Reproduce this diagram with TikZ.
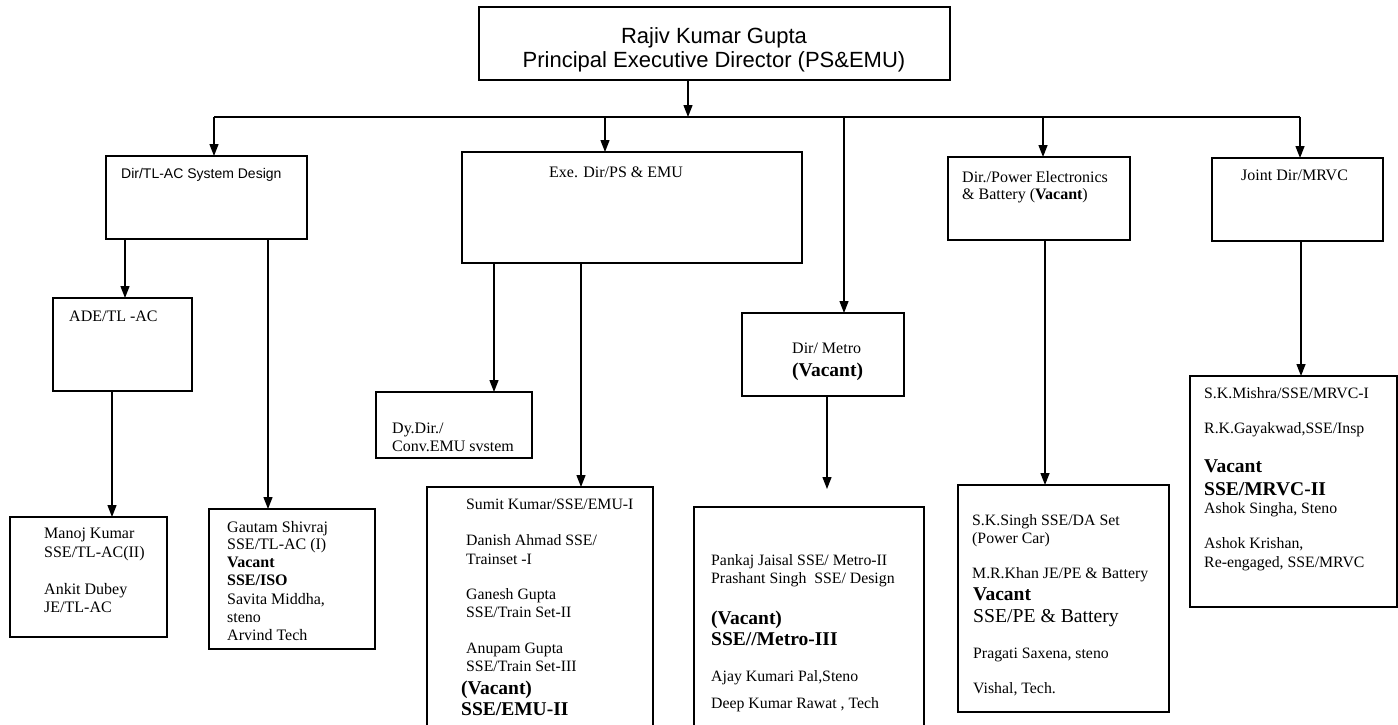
\documentclass[tikz,border=0pt]{standalone}
\usepackage{fontspec}
\setmainfont{Liberation Serif}
\newfontfamily\arialf{Liberation Sans}
\usetikzlibrary{arrows.meta}
\begin{document}
\begin{tikzpicture}[x=1pt,y=-1pt,
  box/.style={draw,line width=1.3pt,inner sep=0pt,outer sep=0pt,anchor=north west},
  ln/.style={line width=1.3pt},
  arr/.style={line width=1.3pt,-{Triangle[length=12pt,width=9pt]}},
  t/.style={inner sep=0pt,anchor=base west,font=\fontsize{15.8}{18}\selectfont},
  tt/.style={inner sep=0pt,anchor=base west,font=\fontsize{16}{18}\selectfont},
  tbs/.style={inner sep=0pt,anchor=base west,font=\fontsize{16}{18}\selectfont\bfseries},
  tb/.style={inner sep=0pt,anchor=base west,font=\fontsize{19.5}{22}\selectfont\bfseries},
  tl/.style={inner sep=0pt,anchor=base west,font=\fontsize{19.7}{22}\selectfont},
  ta/.style={inner sep=0pt,anchor=base,font=\arialf\fontsize{22}{26}\selectfont}]
\useasboundingbox (0,0) rectangle (1398,724);
\fill[white] (0,0) rectangle (1398,724);
\clip (0,0) rectangle (1398,724);
% boxes
\node[box,minimum width=471pt,minimum height=73pt] (top) at (479,7) {};
\node[box,minimum width=201pt,minimum height=83pt] (tlac) at (106,156) {};
\node[box,minimum width=340pt,minimum height=111pt] (exe) at (462,152) {};
\node[box,minimum width=182pt,minimum height=83pt] (pe) at (948,157) {};
\node[box,minimum width=171pt,minimum height=83pt] (jd) at (1212,158) {};
\node[box,minimum width=139pt,minimum height=93pt] (ade) at (53,298) {};
\node[box,minimum width=157pt,minimum height=120pt] (manoj) at (10,517) {};
\node[box,minimum width=166pt,minimum height=140pt] (gautam) at (209,509) {};
\node[box,minimum width=156pt,minimum height=66pt] (dy) at (376,392) {};
\node[box,minimum width=226pt,minimum height=250pt] (sumit) at (427,487) {};
\node[box,minimum width=162pt,minimum height=83pt] (md) at (742,313) {};
\node[box,minimum width=230pt,minimum height=240pt] (ms) at (694,507) {};
\node[box,minimum width=211pt,minimum height=227pt] (sks) at (958,485) {};
\node[box,minimum width=207pt,minimum height=231pt] (mrvc) at (1190,376) {};
% connectors
\coordinate (bL) at (214,117);
\coordinate (bR) at (1300,117);
\coordinate (msIn) at ([yshift=18pt]ms.north);
\draw[arr] ([xshift=-26.5pt]top.south) -- ([xshift=-26.5pt]top.south |- bL);
\draw[ln] (bL) -- (bR);
\draw[arr] (bL) -- (bL |- tlac.north);
\draw[arr] ([xshift=-27pt]exe.north |- bL) -- ([xshift=-27pt]exe.north);
\draw[arr] ([xshift=21pt]md.north |- bL) -- ([xshift=21pt]md.north);
\draw[arr] ([xshift=4pt]pe.north |- bL) -- ([xshift=4pt]pe.north);
\draw[arr] (bR) -- (bR |- jd.north);
\draw[arr] ([xshift=19pt]tlac.south west) -- ([xshift=19pt]tlac.south west |- ade.north);
\draw[arr] ([xshift=162pt]tlac.south west) -- ([xshift=162pt]tlac.south west |- gautam.north);
\draw[arr] ([xshift=59pt]ade.south west) -- ([xshift=59pt]ade.south west |- manoj.north);
\draw[arr] ([xshift=32pt]exe.south west) -- ([xshift=32pt]exe.south west |- dy.north);
\draw[arr] ([xshift=119pt]exe.south west) -- ([xshift=119pt]exe.south west |- sumit.north);
\draw[arr] ([xshift=85pt]md.south west) -- ([xshift=85pt]md.south west |- msIn);
\draw[arr] ([xshift=97pt]pe.south west) -- ([xshift=97pt]pe.south west |- sks.north);
\draw[arr] ([xshift=89pt]jd.south west) -- ([xshift=89pt]jd.south west |- mrvc.north);
% texts
\node[ta] (t1) at (714,43) {Rajiv Kumar Gupta};
\node[ta] (t2) at (714,67) {Principal Executive Director (PS\&EMU)};
\node[inner sep=0pt,anchor=base west,font=\arialf\fontsize{14}{16}\selectfont] (tl1) at (121,178) {Dir/TL-AC System Design};
\node[tt] (ex1) at (549,177) {Exe. Dir/PS \& EMU};
\node[tt] (pe1) at (962,182) {Dir./Power Electronics};
\node[tt] (pe2) at (962,199) {\& Battery (\textbf{Vacant})};
\node[tt] (jd1) at (1241,180) {Joint Dir/MRVC};
\node[tt] (ad1) at (69,321) {ADE/TL -AC};
\node[tt] (dy1) at (392,433) {Dy.Dir./};
\node[tt] (dy2) at (392,451) {Conv.EMU svstem};
\node[tt] (md1) at (792,353) {Dir/ Metro};
\node[tb] (md2) at (792,376) {(Vacant)};
% Manoj box
\node[tt] (mk1) at (44,538) {Manoj Kumar};
\node[tt] (mk2) at (44,557) {SSE/TL-AC(II)};
\node[tt] (mk3) at (44,594) {Ankit Dubey};
\node[tt] (mk4) at (44,612) {JE/TL-AC};
% Gautam box
\node[tt] (g1) at (227,532) {Gautam Shivraj};
\node[tt] (g2) at (227,549) {SSE/TL-AC (I)};
\node[tbs] (g3) at (227,567) {Vacant};
\node[tbs] (g4) at (227,585) {SSE/ISO};
\node[tt] (g5) at (227,604) {Savita Middha,};
\node[tt] (g6) at (227,622) {steno};
\node[tt] (g7) at (227,640) {Arvind Tech};
% Sumit box
\node[t] (s1) at (466,509) {Sumit Kumar/SSE/EMU-I};
\node[t] (s2) at (466,545) {Danish Ahmad SSE/};
\node[t] (s3) at (466,564) {Trainset -I};
\node[t] (s4) at (466,599) {Ganesh Gupta};
\node[t] (s5) at (466,617) {SSE/Train Set-II};
\node[t] (s6) at (466,653) {Anupam Gupta};
\node[t] (s7) at (466,671) {SSE/Train Set-III};
\node[tb] (s8) at (461,694) {(Vacant)};
\node[tb] (s9) at (461,715) {SSE/EMU-II};
% Metro staff
\node[t] (m1) at (711,565) {Pankaj Jaisal SSE/ Metro-II};
\node[t] (m2) at (711,583) {Prashant Singh\ \ SSE/ Design};
\node[tb] (m3) at (711,624) {(Vacant)};
\node[tb] (m4) at (711,645) {SSE//Metro-III};
\node[t] (m5) at (711,681) {Ajay Kumari Pal,Steno};
\node[t] (m6) at (711,708) {Deep Kumar Rawat , Tech};
% SK Singh box
\node[t] (k1) at (972,525) {S.K.Singh SSE/DA Set};
\node[t] (k2) at (972,543) {(Power Car)};
\node[t] (k3) at (972,578) {M.R.Khan JE/PE \& Battery};
\node[tb] (k4) at (973,600) {Vacant};
\node[tl] (k5) at (973,622) {SSE/PE \& Battery};
\node[t] (k6) at (973,658) {Pragati Saxena, steno};
\node[t] (k7) at (973,693) {Vishal, Tech.};
% MRVC box
\node[t] (r1) at (1204,398) {S.K.Mishra/SSE/MRVC-I};
\node[t] (r2) at (1204,433) {R.K.Gayakwad,SSE/Insp};
\node[tb] (r3) at (1204,472) {Vacant};
\node[tb] (r4) at (1204,495) {SSE/MRVC-II};
\node[t] (r5) at (1204,513) {Ashok Singha, Steno};
\node[t] (r6) at (1204,548) {Ashok Krishan,};
\node[t] (r7) at (1204,567) {Re-engaged, SSE/MRVC};
\end{tikzpicture}
\end{document}
